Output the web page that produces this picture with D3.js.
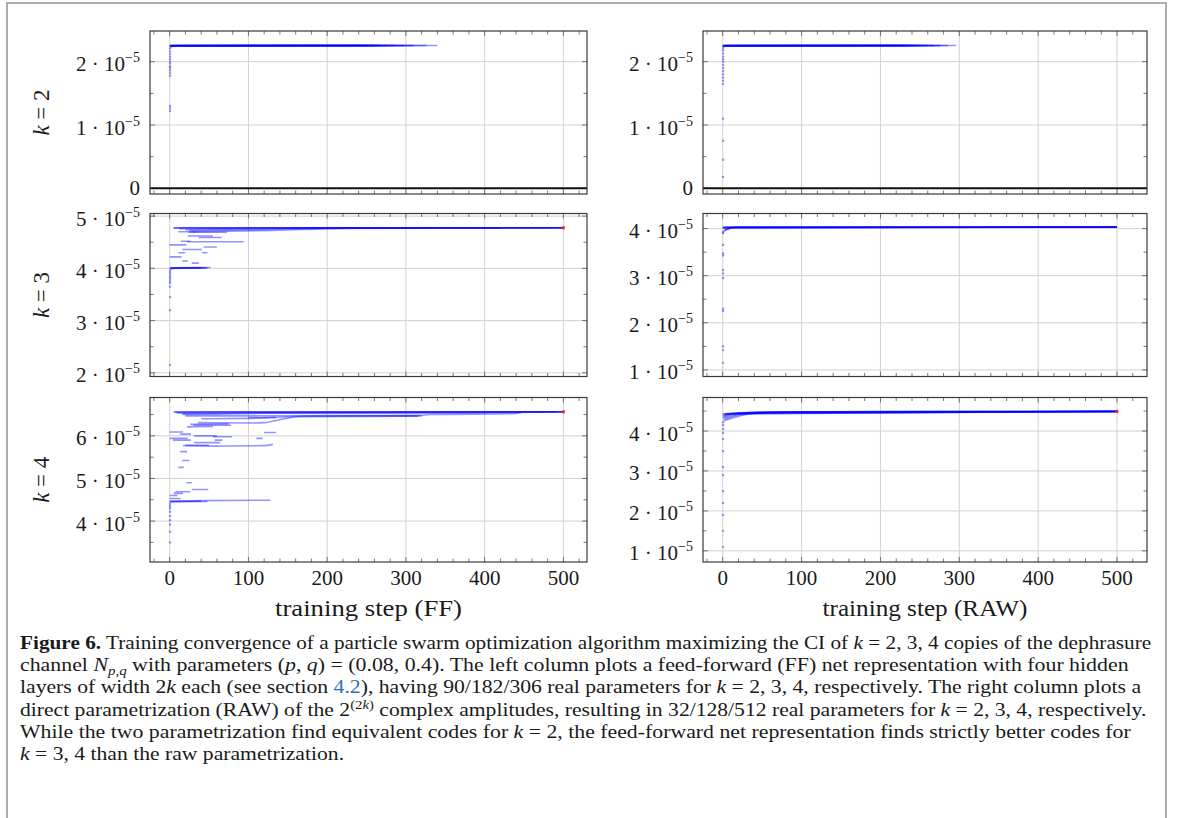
<!DOCTYPE html>
<html>
<head>
<meta charset="utf-8">
<script src="https://cdn.jsdelivr.net/npm/d3@7"></script>
<style>
  body { margin: 0; background: #fff; }
  svg { display: block; }
  .serif { font-family: "Liberation Serif", "Times New Roman", serif; fill: #1a1a1a; }
</style>
</head>
<body>
<svg id="fig" width="1182" height="818"></svg>
<script>
// ---------------------------------------------------------------
// Values are in units of 1e-5 (the CI objective).
// Each track is one particle's best-so-far value: [step, value] points.
// ---------------------------------------------------------------
const xTickValues = [0, 100, 200, 300, 400, 500];
const rowLabels = ["2", "3", "4"];
const xAxisTitles = ["training step (FF)", "training step (RAW)"];

const yTicksK2 = [0, 1, 2];
const yTicksFFk3 = [2, 3, 4, 5];
const yTicksRAWk3 = [1, 2, 3, 4];
const yTicksFFk4 = [4, 5, 6];
const yTicksRAWk4 = [1, 2, 3, 4];

// k = 2, feed-forward net
const ffK2Tracks = [
  [[1, 2.22], [4, 2.252], [340, 2.256]],
  [[1, 2.24], [6, 2.253], [326, 2.255]],
  [[0, 2.25], [310, 2.254]],
  [[2, 2.252], [298, 2.255]],
  [[0, 2.253], [286, 2.256]],
  [[3, 2.254], [276, 2.255]],
  [[1, 2.255], [268, 2.256]],
  [[0, 2.256], [260, 2.257]],
  [[2, 2.254], [252, 2.256]],
  [[0, 2.255], [244, 2.255]]
];
const ffK2Starts = [2.21, 2.16, 2.12, 2.08, 2.04, 2.0, 1.97, 1.93, 1.9, 1.86, 1.82, 1.78, 1.3, 1.26, 1.22];

// k = 2, raw amplitudes
const rawK2Tracks = [
  [[1, 2.23], [4, 2.252], [296, 2.256]],
  [[1, 2.24], [5, 2.253], [286, 2.255]],
  [[0, 2.25], [276, 2.254]],
  [[2, 2.252], [268, 2.255]],
  [[0, 2.253], [260, 2.256]],
  [[3, 2.254], [252, 2.255]],
  [[1, 2.255], [246, 2.256]],
  [[0, 2.256], [240, 2.257]],
  [[2, 2.254], [234, 2.256]],
  [[0, 2.255], [228, 2.255]]
];
const rawK2Starts = [2.22, 2.18, 2.13, 2.08, 2.04, 2.0, 1.95, 1.9, 1.85, 1.8, 1.75, 1.7, 1.65, 1.1, 0.75, 0.45, 0.18];

// k = 3, feed-forward net
const ffK3Tracks = [
  [[19, 4.776], [500, 4.776]],
  [[5, 4.77], [22, 4.774], [500, 4.777]],
  [[12, 4.76], [60, 4.77], [500, 4.776]],
  [[20, 4.74], [90, 4.755], [150, 4.77], [500, 4.776]],
  [[25, 4.72], [110, 4.74], [200, 4.77], [500, 4.775]],
  [[30, 4.70], [130, 4.725], [230, 4.765], [420, 4.775]],
  [[5, 4.776], [19, 4.776]],
  [[11, 4.70], [32, 4.70]],
  [[24, 4.69], [73, 4.69]],
  [[23, 4.62], [55, 4.62]],
  [[37, 4.59], [66, 4.59]],
  [[14, 4.52], [26, 4.52]],
  [[22, 4.51], [94, 4.51]],
  [[0, 4.45], [21, 4.45]],
  [[43, 4.41], [60, 4.41]],
  [[16, 4.36], [41, 4.36]],
  [[11, 4.30], [20, 4.30]],
  [[41, 4.30], [48, 4.30]],
  [[0, 4.22], [15, 4.22]],
  [[16, 4.14], [23, 4.14]],
  [[28, 4.10], [37, 4.10]],
  [[0, 4.0], [3, 4.01], [52, 4.015]],
  [[1, 3.98], [5, 4.005], [48, 4.01]],
  [[0, 4.01], [45, 4.012]],
  [[2, 4.0], [40, 4.008]]
];
const ffK3Starts = [3.96, 3.92, 3.88, 3.84, 3.8, 3.76, 3.72, 3.65, 3.45, 3.2, 2.15];
const ffK3Best = [500, 4.776];

// k = 3, raw amplitudes
const rawK3Tracks = [
  [[0, 4.02], [500, 4.03]],
  [[1, 4.0], [6, 4.025], [500, 4.031]],
  [[2, 3.96], [10, 4.02], [500, 4.029]],
  [[1, 3.94], [4, 3.97], [15, 4.025], [500, 4.03]],
  [[0, 4.025], [500, 4.032]],
  [[3, 3.98], [20, 4.028], [500, 4.03]],
  [[0, 4.028], [500, 4.034]]
];
const rawK3Starts = [3.93, 3.9, 3.65, 3.47, 3.43, 3.12, 3.05, 2.95, 2.3, 2.25, 1.5, 1.42, 1.15];

// k = 4, feed-forward net
const ffK4Tracks = [
  [[5, 6.565], [500, 6.565]],
  [[6, 6.55], [40, 6.56], [500, 6.566]],
  [[9, 6.54], [80, 6.55], [500, 6.564]],
  [[15, 6.52], [100, 6.535], [322, 6.54], [440, 6.55], [490, 6.56]],
  [[17, 6.50], [60, 6.51], [120, 6.53], [500, 6.562]],
  [[20, 6.47], [110, 6.47], [200, 6.475], [318, 6.48], [330, 6.50], [436, 6.52], [446, 6.55]],
  [[40, 6.40], [100, 6.41], [150, 6.45], [170, 6.465], [320, 6.47]],
  [[36, 6.31], [100, 6.30], [120, 6.31], [145, 6.40], [165, 6.45], [315, 6.46]],
  [[30, 6.25], [78, 6.25]],
  [[22, 6.21], [55, 6.22]],
  [[26, 6.27], [75, 6.28]],
  [[100, 6.43], [135, 6.43]],
  [[0, 6.09], [17, 6.09]],
  [[120, 6.08], [135, 6.08]],
  [[13, 6.04], [27, 6.04]],
  [[31, 6.0], [60, 6.0]],
  [[55, 5.98], [79, 5.98]],
  [[0, 5.94], [23, 5.94]],
  [[110, 5.94], [118, 5.94]],
  [[4, 5.90], [27, 5.90]],
  [[57, 5.90], [67, 5.90]],
  [[31, 5.84], [64, 5.84]],
  [[17, 5.77], [60, 5.76], [120, 5.77], [131, 5.80]],
  [[20, 5.78], [50, 5.78]],
  [[13, 5.63], [22, 5.63]],
  [[16, 5.42], [25, 5.42]],
  [[11, 5.26], [18, 5.26]],
  [[21, 4.90], [28, 4.90]],
  [[28, 4.74], [49, 4.74]],
  [[7, 4.69], [26, 4.69]],
  [[5, 4.65], [17, 4.65]],
  [[0, 4.60], [10, 4.60]],
  [[0, 4.53], [14, 4.53]],
  [[0, 4.47], [45, 4.48], [128, 4.49]],
  [[0, 4.45], [48, 4.46]],
  [[1, 4.46], [40, 4.47]]
];
const ffK4Starts = [4.4, 4.35, 4.3, 4.22, 4.12, 4.02, 3.92, 3.75, 3.5];
const ffK4Best = [500, 6.565];

// k = 4, raw amplitudes
const rawK4Tracks = [
  [[2, 4.42], [30, 4.46], [60, 4.475], [200, 4.485], [500, 4.49]],
  [[1, 4.40], [20, 4.45], [80, 4.478], [500, 4.492]],
  [[0, 4.38], [15, 4.44], [100, 4.48], [500, 4.488]],
  [[1, 4.35], [12, 4.42], [50, 4.47], [500, 4.49]],
  [[0, 4.32], [10, 4.38], [25, 4.43], [120, 4.48], [500, 4.491]],
  [[2, 4.29], [8, 4.33], [20, 4.40], [60, 4.46], [500, 4.489]],
  [[1, 4.26], [6, 4.29], [18, 4.36], [40, 4.44], [500, 4.49]],
  [[0, 4.43], [500, 4.495]],
  [[3, 4.44], [500, 4.493]]
];
const rawK4Starts = [4.22, 4.15, 4.05, 3.95, 3.8, 3.5, 3.1, 2.9, 2.5, 2.2, 1.9, 1.5, 1.1];
const rawK4Best = [500, 4.492];

// ---------------------------------------------------------------
// Layout
// ---------------------------------------------------------------
const columns = [
  { x0: 150, x1: 587, xDomain: [-25, 530] },
  { x0: 703, x1: 1147, xDomain: [-25, 538] }
];
const rows = [
  { y0: 31, y1: 194 },
  { y0: 213.5, y1: 376.5 },
  { y0: 397.5, y1: 562 }
];
const panels = [
  { row: 0, col: 0, yDomain: [-0.09, 2.485], yTicks: yTicksK2, tracks: ffK2Tracks, starts: ffK2Starts, best: null, zeroLine: true },
  { row: 0, col: 1, yDomain: [-0.09, 2.485], yTicks: yTicksK2, tracks: rawK2Tracks, starts: rawK2Starts, best: null, zeroLine: true },
  { row: 1, col: 0, yDomain: [1.93, 5.05], yTicks: yTicksFFk3, tracks: ffK3Tracks, starts: ffK3Starts, best: ffK3Best },
  { row: 1, col: 1, yDomain: [0.86, 4.32], yTicks: yTicksRAWk3, tracks: rawK3Tracks, starts: rawK3Starts, best: null },
  { row: 2, col: 0, yDomain: [3.04, 6.90], yTicks: yTicksFFk4, tracks: ffK4Tracks, starts: ffK4Starts, best: ffK4Best },
  { row: 2, col: 1, yDomain: [0.72, 4.84], yTicks: yTicksRAWk4, tracks: rawK4Tracks, starts: rawK4Starts, best: rawK4Best }
];

const svg = d3.select("#fig");
const BLUE = "#0000ff";

// outer figure border
svg.append("rect")
  .attr("x", 7).attr("y", 3).attr("width", 1159).attr("height", 840)
  .attr("fill", "none").attr("stroke", "#9a9a9a").attr("stroke-width", 1.6);

const defs = svg.append("defs");

panels.forEach((p, i) => {
  const c = columns[p.col], r = rows[p.row];
  const x = d3.scaleLinear().domain(c.xDomain).range([c.x0, c.x1]);
  const y = d3.scaleLinear().domain(p.yDomain).range([r.y1, r.y0]);
  const g = svg.append("g");

  defs.append("clipPath").attr("id", "clip" + i)
    .append("rect").attr("x", c.x0).attr("y", r.y0)
    .attr("width", c.x1 - c.x0).attr("height", r.y1 - r.y0);

  // grid
  const grid = g.append("g").attr("stroke", "#cdcdcd").attr("stroke-width", 0.9);
  xTickValues.forEach(v => grid.append("line")
    .attr("x1", x(v)).attr("x2", x(v)).attr("y1", r.y0).attr("y2", r.y1));
  p.yTicks.forEach(v => grid.append("line")
    .attr("x1", c.x0).attr("x2", c.x1).attr("y1", y(v)).attr("y2", y(v)));

  // tick marks (inside, on all four sides)
  const tk = g.append("g").attr("stroke", "#555").attr("stroke-width", 0.8);
  const xMinor = d3.range(-20, c.xDomain[1], 20).filter(v => v % 100 !== 0 && v > c.xDomain[0]);
  const yMinor = d3.range(Math.floor(p.yDomain[0]) + 0.5, p.yDomain[1], 1).filter(v => v > p.yDomain[0]);
  const xMarks = xTickValues.map(v => [v, 5]).concat(xMinor.map(v => [v, 3.5]));
  const yMarks = p.yTicks.map(v => [v, 5]).concat(yMinor.map(v => [v, 3.5]));
  xMarks.forEach(([v, L]) => {
    tk.append("line").attr("x1", x(v)).attr("x2", x(v)).attr("y1", r.y1).attr("y2", r.y1 - L);
    tk.append("line").attr("x1", x(v)).attr("x2", x(v)).attr("y1", r.y0).attr("y2", r.y0 + L);
  });
  yMarks.forEach(([v, L]) => {
    tk.append("line").attr("x1", c.x0).attr("x2", c.x0 + L).attr("y1", y(v)).attr("y2", y(v));
    tk.append("line").attr("x1", c.x1).attr("x2", c.x1 - L).attr("y1", y(v)).attr("y2", y(v));
  });

  const plot = g.append("g").attr("clip-path", `url(#clip${i})`);

  if (p.zeroLine) {
    plot.append("line").attr("x1", c.x0).attr("x2", c.x1)
      .attr("y1", y(0)).attr("y2", y(0))
      .attr("stroke", "#111").attr("stroke-width", 2);
  }

  // particle tracks
  const line = d3.line().x(d => x(d[0])).y(d => y(d[1])).curve(d3.curveMonotoneX);
  plot.selectAll("path.track").data(p.tracks).join("path")
    .attr("class", "track")
    .attr("d", line)
    .attr("fill", "none")
    .attr("stroke", BLUE)
    .attr("stroke-opacity", 0.42)
    .attr("stroke-width", 1.6);

  // initial particle values
  plot.selectAll("circle.start").data(p.starts).join("circle")
    .attr("class", "start")
    .attr("cx", x(0.5)).attr("cy", d => y(d))
    .attr("r", 1.2)
    .attr("fill", BLUE).attr("fill-opacity", 0.4);

  if (p.best) {
    plot.append("circle")
      .attr("cx", x(p.best[0])).attr("cy", y(p.best[1]))
      .attr("r", 1.7).attr("fill", "#ff2020");
  }

  // frame
  g.append("rect")
    .attr("x", c.x0).attr("y", r.y0)
    .attr("width", c.x1 - c.x0).attr("height", r.y1 - r.y0)
    .attr("fill", "none").attr("stroke", "#3a3a3a").attr("stroke-width", 1.2);

  // y tick labels: "n · 10^-5"
  p.yTicks.forEach(v => {
    const t = g.append("text").attr("class", "serif")
      .attr("text-anchor", "end")
      .attr("x", c.x0 - 10)
      .attr("font-size", 21);
    if (v === 0) {
      t.attr("y", y(v) + 7).text("0");
    } else {
      t.attr("y", y(v) + 9.5);
      t.append("tspan").text(`${v} · 10`);
      t.append("tspan").attr("dy", -9).attr("font-size", 14).text("\u22125");
    }
  });

  // x tick labels on the bottom row
  if (p.row === rows.length - 1) {
    xTickValues.forEach(v => g.append("text").attr("class", "serif")
      .attr("text-anchor", "middle").attr("font-size", 21)
      .attr("x", x(v)).attr("y", r.y1 + 23).text(v));
    g.append("text").attr("class", "serif")
      .attr("text-anchor", "middle").attr("font-size", 23)
      .attr("x", (c.x0 + c.x1) / 2).attr("y", r.y1 + 54)
      .attr("textLength", p.col === 0 ? 187 : 205)
      .attr("lengthAdjust", "spacingAndGlyphs")
      .text(xAxisTitles[p.col]);
  }
});

// row labels "k = n"
rows.forEach((r, i) => {
  const cy = (r.y0 + r.y1) / 2;
  const t = svg.append("text").attr("class", "serif")
    .attr("transform", `translate(49,${cy}) rotate(-90)`)
    .attr("text-anchor", "middle").attr("font-size", 23);
  t.append("tspan").attr("font-style", "italic").text("k");
  t.append("tspan").text(" = " + rowLabels[i]);
});

// ---------------------------------------------------------------
// Caption
// ---------------------------------------------------------------
const captionLines = [
  [["Figure 6.", "b"], [" Training convergence of a particle swarm optimization algorithm maximizing the CI of "], ["k", "i"], [" = 2, 3, 4 copies of the dephrasure"]],
  [["channel "], ["N", "i"], ["p,q", "sub"], [" with parameters ("], ["p", "i"], [", "], ["q", "i"], [") = (0.08, 0.4). The left column plots a feed-forward (FF) net representation with four hidden"]],
  [["layers of width 2"], ["k", "i"], [" each (see section "], ["4.2", "link"], ["), having 90/182/306 real parameters for "], ["k", "i"], [" = 2, 3, 4, respectively. The right column plots a"]],
  [["direct parametrization (RAW) of the 2"], ["(2", "sup"], ["k", "supi"], [")", "sup"], [" complex amplitudes, resulting in 32/128/512 real parameters for "], ["k", "i"], [" = 2, 3, 4, respectively."]],
  [["While the two parametrization find equivalent codes for "], ["k", "i"], [" = 2, the feed-forward net representation finds strictly better codes for"]],
  [["k", "i"], [" = 3, 4 than the raw parametrization."]]
];
const captionRight = [1152, 1129, 1142, 1147, 1131, null];
const captionX = 20, captionTop = 649, captionLead = 22.2;

const captionGroups = [];
captionLines.forEach((segs, li) => {
  const g = svg.append("g")
    .attr("transform", `translate(${captionX},${captionTop + li * captionLead})`);
  const t = g.append("text").attr("class", "serif").attr("font-size", 19).attr("x", 0).attr("y", 0);
  let shift = 0;
  segs.forEach(([s, kind]) => {
    const ts = t.append("tspan").text(s);
    let target = 0;
    if (kind === "b") ts.attr("font-weight", "bold");
    if (kind === "i") ts.attr("font-style", "italic");
    if (kind === "link") ts.style("fill", "#2a6fb8");
    if (kind === "sub") { ts.attr("font-style", "italic").attr("font-size", 13); target = 4; }
    if (kind === "sup" || kind === "supi") { ts.attr("font-size", 13); target = -7; }
    if (kind === "supi") ts.attr("font-style", "italic");
    if (target !== shift) { ts.attr("dy", target - shift); shift = target; }
  });
  const w = t.node().getComputedTextLength();
  const sx = captionRight[li] ? (captionRight[li] - captionX) / w : null;
  captionGroups.push({ t, sx });
});
// justified lines are compressed to the measure; the short last line uses their mean
const meanScale = d3.mean(captionGroups.filter(d => d.sx).map(d => d.sx));
captionGroups.forEach(d => d.t.attr("transform", `scale(${d.sx || meanScale},1)`));
</script>
</body>
</html>
